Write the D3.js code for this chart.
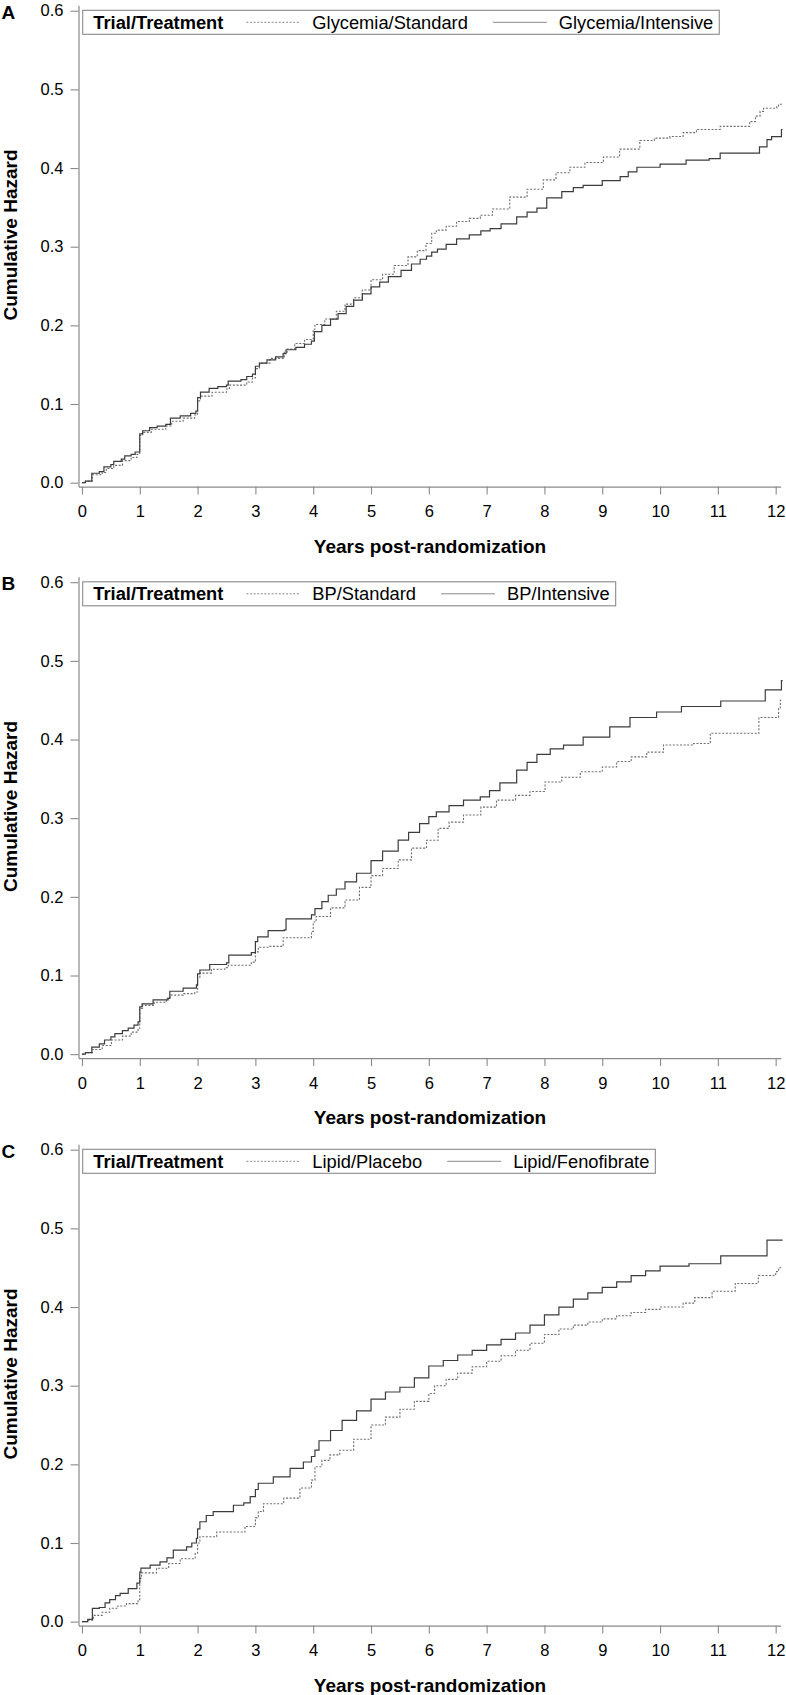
<!DOCTYPE html>
<html>
<head>
<meta charset="utf-8">
<script src="https://cdn.jsdelivr.net/npm/d3@7/dist/d3.min.js"></script>
<style>
  html, body { margin: 0; padding: 0; background: #fff; }
  svg { display: block; font-family: "Liberation Sans", Arial, Helvetica, sans-serif; }
</style>
</head>
<body>
<svg id="chart" width="786" height="1695"></svg>
<script>
// ---------------- DATA ----------------
const panelLetters = ["A", "B", "C"];
const legendTitle = "Trial/Treatment";
const seriesNames = [
  ["Glycemia/Standard", "Glycemia/Intensive"],
  ["BP/Standard", "BP/Intensive"],
  ["Lipid/Placebo", "Lipid/Fenofibrate"]
];
const xTicks = [0, 1, 2, 3, 4, 5, 6, 7, 8, 9, 10, 11, 12];
const yTicks = [0.0, 0.1, 0.2, 0.3, 0.4, 0.5, 0.6];
const xTitle = "Years post-randomization";
const yTitle = "Cumulative Hazard";

// Panel A — Glycemia/Standard (dotted)
const yearsA_std = [0,0.06,0.18,0.35,0.42,0.55,0.70,0.85,0.95,1.00,1.05,1.20,1.45,1.55,1.75,1.95,2.00,2.05,2.25,2.50,2.55,2.85,2.95,3.00,3.07,3.25,3.50,3.55,3.68,3.85,4.00,4.03,4.20,4.40,4.55,4.70,4.85,5.00,5.20,5.40,5.64,5.80,5.95,6.05,6.13,6.30,6.48,6.70,6.89,7.10,7.40,7.70,7.98,8.20,8.44,8.70,9.02,9.30,9.65,9.90,10.17,10.40,10.63,11.04,11.55,11.65,11.73,11.79,12.02,12.05,12.12];
const hazA_std   = [0,0.002,0.010,0.013,0.018,0.022,0.028,0.032,0.036,0.060,0.064,0.068,0.072,0.078,0.082,0.086,0.104,0.110,0.115,0.119,0.124,0.128,0.133,0.145,0.152,0.158,0.166,0.170,0.177,0.182,0.195,0.201,0.208,0.218,0.227,0.235,0.245,0.258,0.265,0.276,0.287,0.295,0.304,0.317,0.321,0.326,0.332,0.336,0.340,0.348,0.363,0.373,0.385,0.394,0.401,0.407,0.414,0.424,0.435,0.438,0.440,0.445,0.449,0.453,0.459,0.466,0.472,0.476,0.478,0.481,0.481];
// Panel A — Glycemia/Intensive (solid)
const yearsA_int = [0,0.06,0.17,0.30,0.38,0.50,0.55,0.68,0.74,0.85,0.92,1.00,1.05,1.17,1.30,1.45,1.53,1.70,1.88,1.97,2.00,2.05,2.20,2.35,2.50,2.53,2.75,2.85,2.95,3.00,3.07,3.20,3.35,3.48,3.53,3.70,3.85,3.97,4.02,4.15,4.30,4.43,4.57,4.70,4.85,5.00,5.15,5.30,5.52,5.70,5.85,5.96,6.05,6.15,6.30,6.48,6.70,6.90,7.06,7.25,7.52,7.70,7.87,8.04,8.30,8.50,8.67,9.00,9.31,9.45,9.60,10.00,10.45,10.85,11.04,11.72,11.85,11.93,12.10,12.12];
const hazA_int   = [0,0.002,0.012,0.014,0.020,0.023,0.027,0.030,0.034,0.036,0.039,0.062,0.066,0.070,0.072,0.074,0.082,0.085,0.088,0.091,0.108,0.115,0.120,0.122,0.124,0.129,0.131,0.135,0.138,0.148,0.152,0.156,0.160,0.164,0.169,0.172,0.176,0.180,0.192,0.200,0.208,0.215,0.224,0.232,0.240,0.249,0.255,0.262,0.270,0.278,0.284,0.288,0.293,0.297,0.303,0.310,0.315,0.320,0.323,0.329,0.338,0.344,0.349,0.362,0.370,0.375,0.378,0.384,0.389,0.395,0.401,0.405,0.410,0.412,0.419,0.427,0.436,0.440,0.449,0.449];

// Panel B — BP/Standard (dotted)
const yearsB_std = [0,0.06,0.18,0.35,0.51,0.70,0.85,0.97,1.00,1.05,1.25,1.46,1.52,1.75,1.95,2.00,2.04,2.24,2.47,2.53,2.93,3.00,3.05,3.22,3.48,3.97,4.00,4.05,4.30,4.55,4.80,5.00,5.20,5.47,5.70,5.96,6.16,6.35,6.60,6.90,7.17,7.50,7.75,8.01,8.30,8.62,9.00,9.25,9.50,9.77,10.06,10.58,10.87,11.71,12.05,12.08,12.12];
const hazB_std   = [0,0.002,0.006,0.011,0.018,0.023,0.028,0.033,0.058,0.062,0.066,0.071,0.075,0.077,0.079,0.098,0.103,0.108,0.110,0.113,0.117,0.130,0.136,0.137,0.148,0.156,0.168,0.175,0.186,0.196,0.212,0.227,0.236,0.247,0.262,0.272,0.287,0.295,0.304,0.314,0.323,0.329,0.334,0.346,0.352,0.359,0.365,0.372,0.378,0.384,0.393,0.395,0.408,0.428,0.440,0.450,0.450];
// Panel B — BP/Intensive (solid)
const yearsB_int = [0,0.06,0.17,0.30,0.39,0.50,0.57,0.70,0.80,0.90,0.97,1.00,1.04,1.23,1.49,1.52,1.75,1.98,2.00,2.04,2.21,2.50,2.54,2.93,3.00,3.04,3.22,3.50,3.53,3.97,4.03,4.15,4.26,4.40,4.55,4.75,5.00,5.20,5.47,5.65,5.84,6.00,6.13,6.35,6.60,6.89,7.05,7.23,7.52,7.70,7.87,8.10,8.33,8.67,9.13,9.48,9.94,10.37,11.05,11.82,12.10,12.12];
const hazB_int   = [0,0.002,0.009,0.013,0.018,0.022,0.026,0.030,0.033,0.037,0.041,0.060,0.064,0.069,0.071,0.080,0.084,0.088,0.102,0.107,0.114,0.116,0.126,0.129,0.143,0.149,0.157,0.158,0.172,0.177,0.185,0.194,0.202,0.210,0.219,0.230,0.246,0.258,0.272,0.282,0.293,0.302,0.308,0.316,0.323,0.327,0.335,0.345,0.361,0.371,0.381,0.388,0.393,0.403,0.416,0.428,0.435,0.442,0.449,0.463,0.475,0.475];

// Panel C — Lipid/Placebo (dotted)
const yearsC_std = [0,0.10,0.20,0.35,0.48,0.62,0.77,0.97,1.00,1.03,1.29,1.50,1.70,1.96,2.00,2.04,2.33,2.82,3.00,3.05,3.14,3.49,3.77,3.97,4.03,4.15,4.29,4.46,4.70,5.00,5.25,5.50,5.75,6.00,6.10,6.30,6.50,6.75,7.00,7.25,7.50,7.75,8.00,8.25,8.50,8.75,9.00,9.25,9.50,9.75,10.00,10.40,10.60,10.90,11.30,11.70,12.00,12.05,12.12];
const hazC_std   = [0,0.002,0.008,0.012,0.017,0.020,0.023,0.028,0.055,0.062,0.068,0.074,0.080,0.087,0.100,0.108,0.114,0.121,0.132,0.140,0.150,0.157,0.170,0.180,0.197,0.205,0.212,0.218,0.232,0.250,0.260,0.270,0.280,0.290,0.300,0.308,0.316,0.324,0.331,0.338,0.345,0.354,0.365,0.372,0.377,0.381,0.385,0.389,0.393,0.397,0.400,0.405,0.412,0.420,0.430,0.440,0.445,0.450,0.450];
// Panel C — Lipid/Fenofibrate (solid)
const yearsC_int = [0,0.10,0.18,0.30,0.40,0.48,0.58,0.66,0.80,0.95,1.00,1.02,1.18,1.35,1.47,1.58,1.81,1.90,1.98,2.00,2.04,2.15,2.27,2.62,2.80,2.91,3.00,3.05,3.31,3.60,3.83,3.97,4.03,4.10,4.30,4.50,4.75,5.00,5.25,5.50,5.75,6.00,6.25,6.50,6.75,7.00,7.25,7.50,7.75,8.00,8.25,8.50,8.75,9.00,9.25,9.50,9.75,10.00,10.50,11.05,11.85,12.12];
const hazC_int   = [0,0.003,0.017,0.018,0.024,0.028,0.033,0.036,0.042,0.049,0.063,0.068,0.072,0.076,0.081,0.091,0.095,0.100,0.106,0.118,0.127,0.135,0.140,0.148,0.151,0.159,0.168,0.176,0.184,0.195,0.203,0.210,0.218,0.230,0.243,0.256,0.268,0.283,0.292,0.298,0.310,0.325,0.332,0.339,0.345,0.352,0.359,0.367,0.377,0.390,0.400,0.410,0.418,0.425,0.432,0.440,0.446,0.452,0.455,0.465,0.485,0.485];

const panelSeries = [
  [[yearsA_std, hazA_std], [yearsA_int, hazA_int]],
  [[yearsB_std, hazB_std], [yearsB_int, hazB_int]],
  [[yearsC_std, hazC_std], [yearsC_int, hazC_int]]
];

// ---------------- LAYOUT ----------------
const panelOffsets = [0, 571.5, 1139];
const axisColor = "#8a8a8a";
const styles = [
  { stroke: "#6e6e6e", width: 1.1, dash: "2,1.6" },  // standard / placebo (dotted)
  { stroke: "#3c3c3c", width: 1.2, dash: null }       // intensive / active (solid)
];

const svg = d3.select("#chart");

const x = d3.scaleLinear().domain([-0.06, 12.087]).range([78.5, 780.7]);
const y = d3.scaleLinear().domain([-0.005, 0.607]).range([486.6, 5.2]);

panelLetters.forEach((letter, p) => {
  const g = svg.append("g").attr("transform", `translate(0,${panelOffsets[p]})`);

  // panel letter
  g.append("text").attr("x", 1.5).attr("y", 18.5)
    .attr("font-size", 19).attr("font-weight", "bold").attr("fill", "#000").text(letter);

  // y axis
  const ya = g.append("g").attr("transform", `translate(${x.range()[0]},0)`)
    .call(d3.axisLeft(y).tickValues(yTicks).tickFormat(d3.format(".1f")).tickSize(8).tickSizeOuter(0).tickPadding(7));
  ya.select(".domain").attr("stroke", axisColor).attr("stroke-width", 1.2);
  ya.selectAll(".tick line").attr("stroke", axisColor).attr("stroke-width", 1.1);
  ya.selectAll(".tick text").attr("font-size", 16.5).attr("fill", "#000")
    .attr("font-family", "'Liberation Sans', Arial, sans-serif");

  // x axis
  const xa = g.append("g").attr("transform", `translate(0,${y.range()[0]})`)
    .call(d3.axisBottom(x).tickValues(xTicks).tickFormat(d3.format("d")).tickSize(8).tickSizeOuter(0).tickPadding(11));
  xa.select(".domain").attr("stroke", axisColor).attr("stroke-width", 1.2);
  xa.selectAll(".tick line").attr("stroke", axisColor).attr("stroke-width", 1.1);
  xa.selectAll(".tick text").attr("font-size", 16.5).attr("fill", "#000")
    .attr("font-family", "'Liberation Sans', Arial, sans-serif");

  // axis titles
  g.append("text").attr("x", 430).attr("y", 552.7).attr("text-anchor", "middle")
    .attr("font-size", 19).attr("font-weight", "bold").attr("fill", "#000").text(xTitle);
  g.append("text").attr("transform", "translate(17,235) rotate(-90)").attr("text-anchor", "middle")
    .attr("font-size", 19).attr("font-weight", "bold").attr("fill", "#000").text(yTitle);

  // curves
  const line = d3.line().x(d => x(d[0])).y(d => y(d[1])).curve(d3.curveStepAfter);
  panelSeries[p].forEach((s, i) => {
    const pts = s[0].map((t, k) => [t, s[1][k]]);
    const path = g.append("path").datum(pts).attr("d", line)
      .attr("fill", "none").attr("stroke", styles[i].stroke)
      .attr("stroke-width", styles[i].width);
    if (styles[i].dash) path.attr("stroke-dasharray", styles[i].dash);
  });

  // legend
  const lg = g.append("g");
  const boxX = 82.7, boxTop = y(0.6) - 0.4, boxH = 24;
  const box = lg.append("rect").attr("x", boxX).attr("y", boxTop).attr("height", boxH)
    .attr("fill", "#fff").attr("stroke", "#8a8a8a").attr("stroke-width", 1.1);
  const base = boxTop + 18.5;
  let cx = 93.3;
  const tt = lg.append("text").attr("x", cx).attr("y", base).attr("font-size", 18.3)
    .attr("font-weight", "bold").attr("fill", "#000").text(legendTitle);
  cx += tt.node().getComputedTextLength() + 23;
  seriesNames[p].forEach((name, i) => {
    const sl = lg.append("line").attr("x1", cx).attr("x2", cx + 54)
      .attr("y1", boxTop + boxH / 2).attr("y2", boxTop + boxH / 2)
      .attr("stroke", "#8a8a8a").attr("stroke-width", 1);
    if (styles[i].dash) sl.attr("stroke-dasharray", styles[i].dash);
    cx += 54 + 12;
    const t = lg.append("text").attr("x", cx).attr("y", base).attr("font-size", 18.3)
      .attr("fill", "#000").text(name);
    cx += t.node().getComputedTextLength() + (i === 0 ? 25 : 6);
  });
  box.attr("width", cx - boxX);
});
</script>
</body>
</html>
